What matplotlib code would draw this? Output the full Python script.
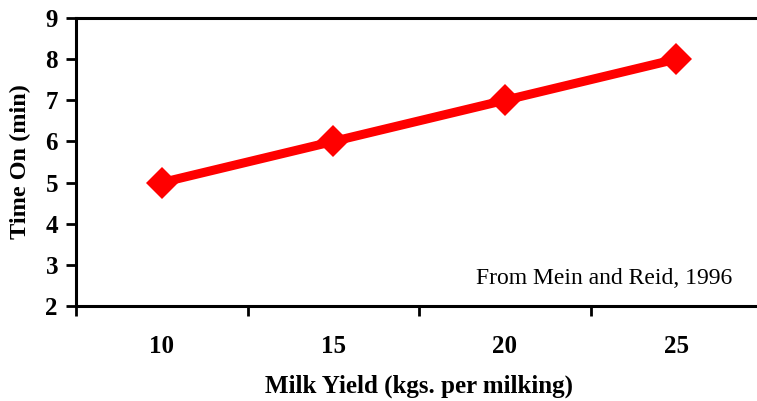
import matplotlib.pyplot as plt

# data
milk_yield = [10, 15, 20, 25]
time_on = [5, 6, 7, 8]
y_ticks = [2, 3, 4, 5, 6, 7, 8, 9]

plt.rcParams['font.family'] = ['Liberation Serif', 'DejaVu Serif']

fig = plt.figure(figsize=(7.57, 4.01), dpi=100)
ax = fig.add_axes([76 / 757, 1 - 306 / 401, 686 / 757, 288 / 401])

ax.plot(milk_yield, time_on, color='#ff0000', linewidth=6.5,
        marker='D', markersize=16, markeredgewidth=0, solid_capstyle='butt')

ax.set_xlim(7.5, 27.5)
ax.set_ylim(2, 9)
ax.set_yticks(y_ticks)
ax.set_xticks(milk_yield)
ax.set_xticks([12.5, 17.5, 22.5, 27.5, 7.5], minor=True)

ax.tick_params(axis='x', which='major', length=0, pad=21, labelsize=18)
ax.tick_params(axis='x', which='minor', length=7, width=2)
ax.tick_params(axis='y', length=7, width=2, pad=6, labelsize=18)
for lbl in ax.get_xticklabels() + ax.get_yticklabels():
    lbl.set_fontweight('bold')

for side in ['left', 'bottom', 'top']:
    ax.spines[side].set_linewidth(2.2)
ax.spines['right'].set_visible(False)

ax.set_ylabel('Time On (min)', fontsize=17.5, fontweight='bold', labelpad=10)
ax.set_xlabel('Milk Yield (kgs. per milking)', fontsize=18, fontweight='bold', labelpad=12)

ax.text(26.63, 2.68, 'From Mein and Reid, 1996', fontsize=17, ha='right', va='center')

fig.savefig('out.png', dpi=100)
